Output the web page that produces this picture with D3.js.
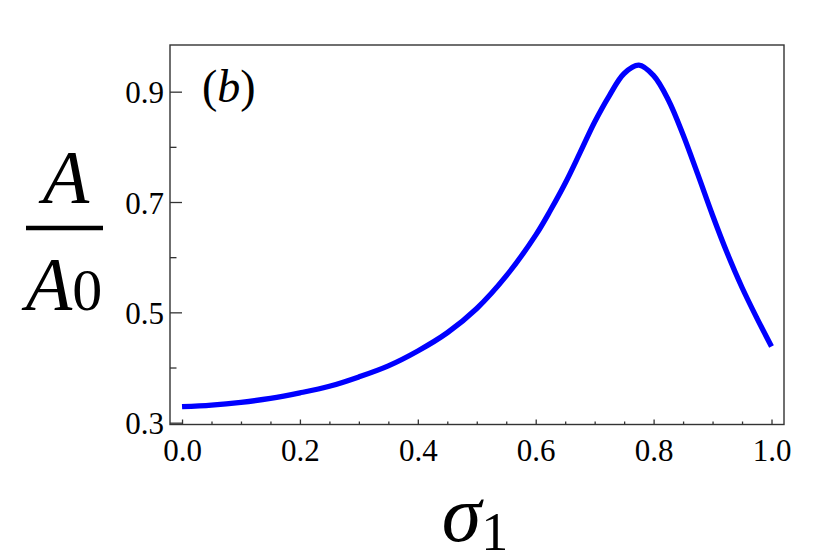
<!DOCTYPE html>
<html>
<head>
<meta charset="utf-8">
<script src="https://cdn.jsdelivr.net/npm/d3@7"></script>
<style>
body { margin: 0; background: #fff; }
text { font-family: "Liberation Serif", "Times New Roman", serif; fill: #000; }
</style>
</head>
<body>
<script>
// values
var sigma = [0, 0.05, 0.10, 0.15, 0.20, 0.25, 0.30, 0.35, 0.40, 0.45, 0.50, 0.55, 0.60, 0.625, 0.65, 0.675, 0.70, 0.725, 0.75, 0.775, 0.80, 0.825, 0.85, 0.875, 0.90, 0.925, 0.95, 0.975, 1.00];
var ratio = [0.329, 0.332, 0.337, 0.344, 0.354, 0.366, 0.383, 0.403, 0.430, 0.463, 0.507, 0.566, 0.640, 0.685, 0.734, 0.789, 0.845, 0.893, 0.933, 0.948, 0.929, 0.885, 0.822, 0.750, 0.676, 0.607, 0.545, 0.490, 0.438];
var xTicks = [0, 0.2, 0.4, 0.6, 0.8, 1.0];
var xMinor = [0.05, 0.1, 0.15, 0.25, 0.3, 0.35, 0.45, 0.5, 0.55, 0.65, 0.7, 0.75, 0.85, 0.9, 0.95];
var yTicks = [0.3, 0.5, 0.7, 0.9];
var yMinor = [0.4, 0.6, 0.8];

var width = 830, height = 554;
var pLeft = 170, pRight = 784, pTop = 45, pBottom = 424.5;

var svg = d3.select("body").append("svg")
	.attr("width", width)
	.attr("height", height);

var x = d3.scaleLinear().domain([-0.0204, 1.0212]).range([pLeft, pRight]);
var y = d3.scaleLinear().domain([0.2967, 0.9846]).range([pBottom, pTop]);

var points = sigma.map(function(s, i) { return [s, ratio[i]]; });

svg.append("path")
	.datum(points)
	.attr("d", d3.line()
		.x(function(d) { return x(d[0]); })
		.y(function(d) { return y(d[1]); })
		.curve(d3.curveCatmullRom.alpha(0.5)))
	.style("fill", "none")
	.style("stroke", "#0000ff")
	.style("stroke-width", 5.3);

// frame
svg.append("rect")
	.attr("x", pLeft).attr("y", pTop)
	.attr("width", pRight - pLeft).attr("height", pBottom - pTop)
	.style("fill", "none")
	.style("stroke", "#333")
	.style("stroke-width", 1.4);

// ticks point inward
var xAxis = d3.axisBottom(x).tickValues(xTicks).tickSize(-5).tickFormat(d3.format(".1f")).tickPadding(14);
var gx = svg.append("g").attr("transform", "translate(0," + pBottom + ")").call(xAxis);
var xAxisMinor = d3.axisBottom(x).tickValues(xMinor).tickSize(-3).tickFormat("");
var gxm = svg.append("g").attr("transform", "translate(0," + pBottom + ")").call(xAxisMinor);

var yAxis = d3.axisLeft(y).tickValues(yTicks).tickSize(-12).tickFormat(d3.format(".1f")).tickPadding(7);
var gy = svg.append("g").attr("transform", "translate(" + pLeft + ",0)").call(yAxis);
var yAxisMinor = d3.axisLeft(y).tickValues(yMinor).tickSize(-6.5).tickFormat("");
var gym = svg.append("g").attr("transform", "translate(" + pLeft + ",0)").call(yAxisMinor);

[gx, gxm, gy, gym].forEach(function(g) {
	g.select(".domain").remove();
	g.selectAll("line").style("stroke", "#333").style("stroke-width", 1.3);
	g.selectAll("text")
		.style("font-family", "'Liberation Serif', 'Times New Roman', serif")
		.style("font-size", "31px")
		.style("fill", "#000");
});
gx.selectAll("text").attr("dy", "0.71em");
gy.selectAll("text").attr("dy", "0.36em").attr("x", -6);

// panel label
var lab = svg.append("text")
	.attr("x", 202).attr("y", 102)
	.style("font-size", "46px");
lab.append("tspan").text("(");
lab.append("tspan").style("font-style", "italic").text("b");
lab.append("tspan").text(")");

// y label: A over A0
svg.append("text")
	.attr("x", 66).attr("y", 203)
	.attr("text-anchor", "middle")
	.style("font-size", "76px")
	.style("font-style", "italic")
	.text("A");
svg.append("line")
	.attr("x1", 26).attr("x2", 103)
	.attr("y1", 228).attr("y2", 228)
	.style("stroke", "#000")
	.style("stroke-width", 4.5);
var den = svg.append("text")
	.attr("x", 64).attr("y", 310)
	.attr("text-anchor", "middle")
	.style("font-size", "76px");
den.append("tspan").style("font-style", "italic").text("A");
den.append("tspan").style("font-size", "60px").text("0");

// x label: sigma_1
var xl = svg.append("text")
	.attr("x", 475).attr("y", 541)
	.attr("text-anchor", "middle")
	.style("font-size", "80px");
xl.append("tspan").style("font-style", "italic").text("σ");
xl.append("tspan").attr("dy", 9).style("font-size", "54px").text("1");
</script>
</body>
</html>
